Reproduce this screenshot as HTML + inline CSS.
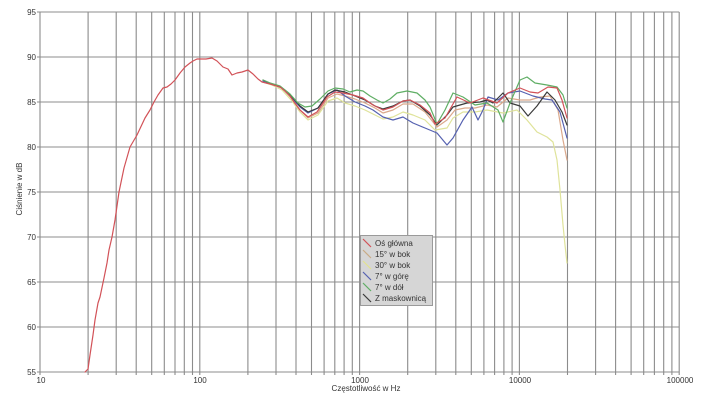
<!DOCTYPE html>
<html><head><meta charset="utf-8"><style>
html,body{margin:0;padding:0;background:#fff;}
svg{display:block;}
text{font-family:"Liberation Sans",Arial,sans-serif;fill:#333;}
</style></head><body>
<svg width="708" height="405" viewBox="0 0 708 405" xmlns="http://www.w3.org/2000/svg">
<rect width="708" height="405" fill="#fff"/>
<g stroke="#8c8c8c" stroke-width="1.1" fill="none">
<!-- vertical grid -->
<path d="M40 12V375M88.1 12V375M116.2 12V375M136.2 12V375M151.7 12V375M164.3 12V375M175 12V375M184.3 12V375M192.5 12V375
M199.8 12V375M247.9 12V375M276 12V375M296 12V375M311.5 12V375M324.1 12V375M334.8 12V375M344.1 12V375M352.3 12V375
M359.6 12V375M407.7 12V375M435.8 12V375M455.8 12V375M471.3 12V375M483.9 12V375M494.6 12V375M503.9 12V375M512.1 12V375
M519.4 12V375M567.5 12V375M595.6 12V375M615.6 12V375M631.1 12V375M643.7 12V375M654.4 12V375M663.7 12V375M671.9 12V375M679.2 12V375"/>
<!-- horizontal grid -->
<path d="M37 12H679.2M37 57H679.2M37 102H679.2M37 147H679.2M37 192H679.2M37 237H679.2M37 282H679.2M37 327H679.2M37 372H679.2"/>
</g>
<!-- y labels -->
<g font-size="8" text-anchor="end">
<text x="36" y="15">95</text>
<text x="36" y="60">90</text>
<text x="36" y="105">85</text>
<text x="36" y="150">80</text>
<text x="36" y="195">75</text>
<text x="36" y="240">70</text>
<text x="36" y="285">65</text>
<text x="36" y="330">60</text>
<text x="36" y="375">55</text>
</g>
<g font-size="8" text-anchor="middle">
<text x="41" y="383">10</text>
<text x="200" y="383">100</text>
<text x="360" y="383">1000</text>
<text x="520" y="383">10000</text>
<text x="680" y="383">100000</text>
<text x="366" y="391">Częstotliwość w Hz</text>
</g>
<text font-size="8" text-anchor="middle" transform="translate(22,189) rotate(-90)">Ciśnienie w dB</text>

<g fill="none" stroke-width="1.2" stroke-linejoin="round" stroke-linecap="round">
<!-- yellow 30 -->
<polyline stroke="#dfe39a" points="263,82 272,85 282,90 292,101 300,112 308,120 318,115 328,101 337,98 345,103 355,106 365,110 375,115 383,119 393,117 403,112 413,115 425,120 435,130 447,128 453,118 463,112 475,112 487,110 503,113 517,110 527,120 537,132 547,137 553,142 557,160 560,190 563,225 565,245 567,263"/>
<!-- orange 15 -->
<polyline stroke="#dba98c" points="263,81 272,84 282,88 292,99 300,110 308,118 318,113 328,98 337,94 345,96 355,99 365,103 375,108 383,113 393,110 403,104 413,104 425,112 437,127 447,120 455,110 465,108 475,108 487,105 497,107 508,98 520,100 530,100 540,97 550,96 558,110 563,140 567,160"/>
<!-- blue -->
<polyline stroke="#5561b0" points="263,81 272,84 282,88 292,98 300,107 308,113 318,108 328,94 337,90 345,96 355,102 365,106 373,110 383,117 393,120 403,117 413,123 425,128 437,133 447,145 453,138 463,120 472,107 478,120 483,110 488,97 498,100 508,93 520,91 533,96 545,99 552,100 560,112 567,138"/>
<!-- black -->
<polyline stroke="#3a3a3a" points="263,80 272,84 282,88 292,97 300,106 308,112 318,108 328,94 335,90 345,92 355,96 365,100 375,106 383,109 393,106 403,101 410,100 420,106 430,115 437,125 447,115 453,107 467,103 480,102 487,100 493,103 503,93 510,103 520,106 528,116 537,106 547,92 555,100 562,112 567,125"/>
<!-- green -->
<polyline stroke="#5fae64" points="263,80 270,83 280,86 290,94 298,103 305,107 312,106 320,99 328,91 335,88 343,89 350,92 357,90 363,91 370,96 377,100 383,103 390,99 397,93 407,91 417,93 425,100 430,107 437,124 445,110 453,93 463,97 475,105 487,103 498,110 503,122 510,103 520,80 527,77 535,83 547,85 557,87 563,95 567,108"/>
<!-- red -->
<polyline stroke="#d25258" points="85,372 88,369 90,355 93,335 95,320 98,303 100,297 104,278 107,263 109,250 112,237 115,220 119,192 124,168 130,147 137,135 145,118 150,110 154,102 158,95 163,88 167,87 171,84 175,80 180,73 185,67 190,63 193,61 197,59 202,59 206,59 212,58 217,61 223,67 228,69 232,75 237,73 242,72 248,70 253,74 258,79 262,82 270,84 280,87 285,91 290,96 294,102 300,110 308,117 317,112 327,97 335,92 343,93 353,95 363,98 373,105 383,110 393,107 403,101 410,100 420,105 430,113 435,124 445,118 457,97 470,103 483,98 497,103 508,93 520,88 530,92 538,93 548,87 557,88 562,100 567,118"/>
</g>

<!-- legend -->
<rect x="360.5" y="235.5" width="72" height="70" fill="#d6d6d6" stroke="#9a9a9a"/>
<g stroke-width="1.2">
<line x1="363" y1="239" x2="371" y2="247" stroke="#d25258"/>
<line x1="363" y1="250" x2="371" y2="258" stroke="#c9ab85"/>
<line x1="363" y1="261" x2="371" y2="269" stroke="#e3e38e"/>
<line x1="363" y1="272" x2="371" y2="280" stroke="#5561b0"/>
<line x1="363" y1="283" x2="371" y2="291" stroke="#5fae64"/>
<line x1="363" y1="294" x2="371" y2="302" stroke="#3a3a3a"/>
</g>
<g font-size="8" style="fill:#222">
<text x="375" y="246">Oś główna</text>
<text x="375" y="257">15° w bok</text>
<text x="375" y="268">30° w bok</text>
<text x="375" y="279">7° w górę</text>
<text x="375" y="290">7° w dół</text>
<text x="375" y="301">Z maskownicą</text>
</g>
</svg>
</body></html>
